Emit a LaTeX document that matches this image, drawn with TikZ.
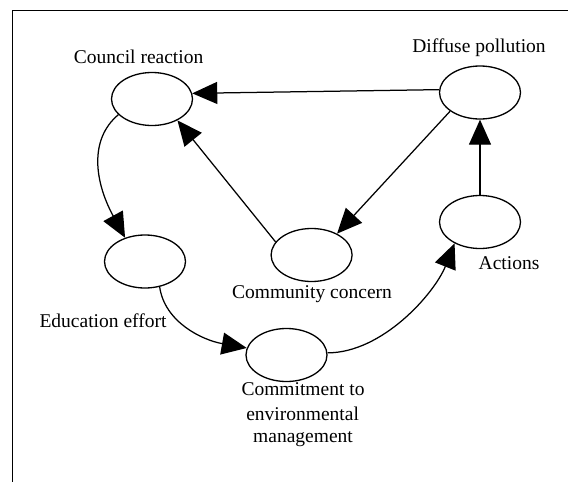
\documentclass[tikz,border=0pt]{standalone}
\usepackage{fontspec}
\setmainfont{Liberation Serif}
\usetikzlibrary{arrows.meta,shapes.geometric}

\tikzset{
  state/.style={ellipse, draw, line width=1.3pt, minimum width=81pt, minimum height=53pt, inner sep=0pt},
  caption/.style={anchor=base, inner sep=0pt, font=\fontsize{19.5}{24}\selectfont},
  link/.style={line width=1.25pt, -{Triangle[length=25pt, width=22pt]}},
  frameline/.style={line width=1.4pt}
}

\begin{document}
\begin{tikzpicture}[x=1pt, y=-1pt]
  \useasboundingbox (0,0) rectangle (568,482);

  % open frame: top and left edges
  \coordinate (fbl) at (12.5,482);
  \coordinate (fcorner) at (12.5,10.5);
  \coordinate (ftr) at (568,10.5);
  \draw[frameline] (fbl) -- (fcorner) -- (ftr);

  % states of the cycle
  \node[state] (cr) at (152,99) {};
  \node[state] (dp) at (480,92.5) {};
  \node[state] (ed) at (145,261.5) {};
  \node[state] (cc) at (311.6,255) {};
  \node[state] (ac) at (480,222) {};
  \node[state] (cm) at (286.5,355) {};

  % captions
  \node[caption] (lcr) at (138.6,63.5) {Council reaction};
  \node[caption] (ldp) at (479,52) {Diffuse pollution};
  \node[caption] (led) at (103,327) {Education effort};
  \node[caption] (lcc) at (312,298.5) {Community concern};
  \node[caption] (lac) at (509,269) {Actions};
  \node[caption] (lcm1) at (303,395) {Commitment to};
  \node[caption] (lcm2) at (302.6,420) {environmental};
  \node[caption] (lcm3) at (303,442.5) {management};

  % straight links
  \draw[link] (dp.176) -- (cr.8);
  \draw[link] (dp.212) -- (cc.40);
  \draw[link] (cc.160) -- (cr.320);
  \draw[link] (ac.north) -- (dp.south);

  % curved links
  \draw[link] (cr.205) .. controls +(-30,25) and +(-30,-55) .. (ed.130);
  \draw[link] (ed.300) .. controls +(5,35) and +(-45,-8) .. (cm.170);
  \draw[link] (cm.3) .. controls +(55,0) and +(-20,50) .. (ac.220);
\end{tikzpicture}
\end{document}
